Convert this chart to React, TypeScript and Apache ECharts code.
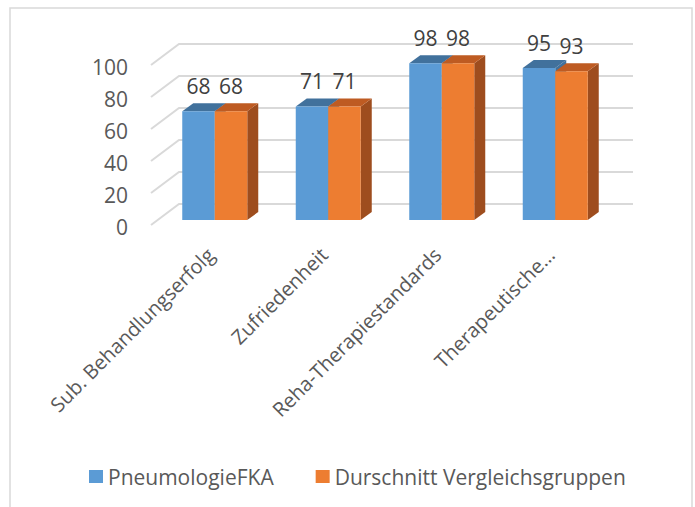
import React, { useEffect, useRef } from "react";
import * as echarts from "echarts";

const categories = [
  "Sub. Behandlungserfolg",
  "Zufriedenheit",
  "Reha-Therapiestandards",
  "Therapeutische…",
];
const seriesNames = ["PneumologieFKA", "Durschnitt Vergleichsgruppen"];
const pneumologieFKA = [68, 71, 98, 95];
const durchschnitt = [68, 71, 98, 93];
const yTicks = [0, 20, 40, 60, 80, 100];

const FONT = "'Open Sans', sans-serif";
const BAR_W = 32.5;
const DX = 11;
const DY = -8;

function makeBarRender(side: number, front: string, top: string, sideCol: string) {
  return (params: any, api: any) => {
    const ci = api.value(0);
    const v = api.value(1);
    const [cx, yTop] = api.coord([ci, v]);
    const y0 = api.coord([ci, 0])[1];
    const xl = side < 0 ? cx - BAR_W : cx;
    const xr = xl + BAR_W;
    return {
      type: "group",
      children: [
        {
          type: "polygon",
          shape: {
            points: [
              [xr, yTop],
              [xr + DX, yTop + DY],
              [xr + DX, y0 + DY],
              [xr, y0],
            ],
          },
          style: { fill: sideCol },
        },
        {
          type: "polygon",
          shape: {
            points: [
              [xl, yTop],
              [xr, yTop],
              [xr + DX, yTop + DY],
              [xl + DX, yTop + DY],
            ],
          },
          style: { fill: top },
        },
        {
          type: "rect",
          shape: { x: xl, y: yTop, width: BAR_W, height: y0 - yTop },
          style: { fill: front },
        },
        {
          type: "text",
          style: {
            text: String(v),
            x: xl + BAR_W / 2,
            y: yTop - 25,
            align: "center",
            verticalAlign: "middle",
            fill: "#404040",
            font: `21px ${FONT}`,
          },
        },
      ],
    };
  };
}

export default function App() {
  const ref = useRef<HTMLDivElement>(null);
  useEffect(() => {
    if (!ref.current) return;
    const chart = echarts.init(ref.current, undefined, { renderer: "svg" });
    const gridRender = (params: any, api: any) => {
      const cs = params.coordSys;
      const v = api.value(1);
      const y = api.coord([0, v])[1];
      const x0 = cs.x;
      const x1 = cs.x + cs.width;
      return {
        type: "group",
        children: [
          {
            type: "polyline",
            shape: {
              points: [
                [x0 - 7, y + 5],
                [x0 + 21, y - 16],
                [x1 + 21, y - 16],
              ],
            },
            style: { stroke: "#D9D9D9", lineWidth: 2, fill: "none" },
          },
          {
            type: "text",
            style: {
              text: String(v),
              x: x0 - 30,
              y: y + 7,
              align: "right",
              verticalAlign: "middle",
              fill: "#595959",
              font: `21px ${FONT}`,
            },
          },
        ],
      };
    };
    chart.setOption({
      animation: false,
      backgroundColor: "#ffffff",
      graphic: [
        {
          type: "rect",
          shape: { x: 10, y: 8, width: 682, height: 540 },
          style: { fill: "none", stroke: "#D9D9D9", lineWidth: 1.5 },
          z: 0,
        },
      ],
      grid: { left: 158, top: 60, width: 454, height: 160 },
      xAxis: {
        type: "category",
        data: categories,
        axisLine: { show: false },
        axisTick: { show: false },
        axisLabel: {
          rotate: 45,
          margin: 27,
          padding: [0, 6, 0, 0],
          interval: 0,
          fontSize: 20,
          fontFamily: FONT,
          color: "#595959",
        },
      },
      yAxis: {
        type: "value",
        min: 0,
        max: 100,
        interval: 20,
        splitLine: { show: false },
        axisLine: { show: false },
        axisTick: { show: false },
        axisLabel: { show: false },
      },
      legend: {
        data: seriesNames,
        left: 84,
        top: 461,
        icon: "rect",
        itemWidth: 14,
        itemHeight: 13,
        itemGap: 42,
        textStyle: { fontSize: 21, fontFamily: FONT, color: "#595959" },
      },
      series: [
        {
          type: "custom",
          renderItem: gridRender,
          data: yTicks.map((t) => [0, t]),
          silent: true,
          z: 1,
        },
        {
          name: seriesNames[0],
          type: "custom",
          itemStyle: { color: "#5B9BD5" },
          renderItem: makeBarRender(-1, "#5B9BD5", "#41719C", "#41719C"),
          data: pneumologieFKA.map((v, i) => [i, v]),
          z: 2,
        },
        {
          name: seriesNames[1],
          type: "custom",
          itemStyle: { color: "#ED7D31" },
          renderItem: makeBarRender(1, "#ED7D31", "#BE5B22", "#9E4D1E"),
          data: durchschnitt.map((v, i) => [i, v]),
          z: 3,
        },
      ],
    });
    return () => chart.dispose();
  }, []);
  return (
    <div
      ref={ref}
      style={{ position: "fixed", left: 0, top: 0, width: 695, height: 507 }}
    />
  );
}
